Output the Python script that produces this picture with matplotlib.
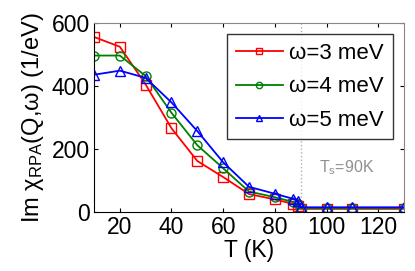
import matplotlib
matplotlib.use("Agg")
import matplotlib.pyplot as plt

plt.rcParams['font.family'] = ['Liberation Sans', 'DejaVu Sans']
plt.rcParams['mathtext.fontset'] = 'custom'
plt.rcParams['mathtext.rm'] = 'Liberation Sans'
plt.rcParams['mathtext.it'] = 'Liberation Sans'

T = [10, 20, 30, 40, 50, 60, 70, 80, 87, 89, 90, 100, 110, 130]
w3 = [556, 525, 405, 266, 162, 111, 57, 40, 26, 18, 10, 10, 10, 10]
w4 = [497, 497, 432, 315, 212, 139, 65, 47, 32, 25, 12, 12, 12, 12]
w5 = [436, 449, 426, 348, 257, 158, 80, 58, 42, 35, 15, 15, 15, 15]
labels = ['ω=3 meV', 'ω=4 meV', 'ω=5 meV']
Ts = 90

fig = plt.figure(figsize=(4.15, 2.71), dpi=100)
ax = fig.add_axes([0.2265, 0.2177, 0.747, 0.697])

ax.axvline(Ts, color='#b0b0b0', linestyle=':', linewidth=1)
for y, c, m, lab in [(w3, 'red', 's', labels[0]), (w4, 'green', 'o', labels[1]), (w5, 'blue', '^', labels[2])]:
    ax.plot(T, y, color=c, marker=m, markerfacecolor='none', markeredgecolor=c,
            markersize=6.5, linewidth=1.3, label=lab)

ax.text(97, 127, r'T$_\mathrm{s}$=90K', color='#909090', fontsize=11.5)

ax.set_xlim(10, 130)
ax.set_ylim(0, 600)
ax.set_xticks([20, 40, 60, 80, 100, 120])
ax.set_yticks([0, 200, 400, 600])
ax.tick_params(direction='in', top=True, right=True, labelsize=16.5, length=3, pad=3)
for s in ['top', 'right']:
    ax.spines[s].set_color('#888888')
ax.set_xlabel('T (K)', fontsize=16.5, labelpad=0)
ax.set_ylabel(r'Im $\chi_{\mathrm{RPA}}$(Q,ω) (1/eV)', fontsize=17, labelpad=4)

leg = ax.legend(loc='upper right', fontsize=16, frameon=True, fancybox=False,
                edgecolor='black', borderpad=0.4, handlelength=2.1, labelspacing=0.55,
                markerscale=0.7, borderaxespad=0.5, handletextpad=0.3)
leg.get_frame().set_linewidth(1.0)

fig.savefig('out.png', dpi=100)
